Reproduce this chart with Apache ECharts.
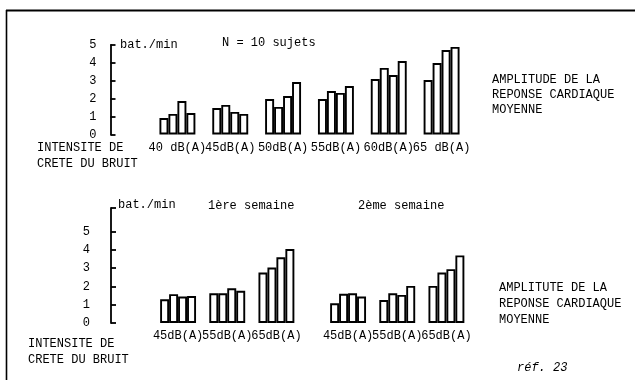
<!DOCTYPE html>
<html>
<head>
<meta charset="utf-8">
<script src="https://cdn.jsdelivr.net/npm/echarts@6/dist/echarts.min.js"></script>
<style>
html,body{margin:0;padding:0;background:#fff;}
#c{width:635px;height:380px;}
</style>
</head>
<body>
<div id="c"></div>
<script>
// ---- data ----
const topCategories = ['40 dB(A)', '45dB(A)', '50dB(A)', '55dB(A)', '60dB(A)', '65 dB(A)'];
const topS1 = [0.92, 1.48, 1.98, 1.98, 3.10, 3.04];
const topS2 = [1.15, 1.65, 1.54, 2.43, 3.72, 3.99];
const topS3 = [1.87, 1.26, 2.15, 2.32, 3.32, 4.72];
const topS4 = [1.20, 1.15, 2.93, 2.71, 4.10, 4.89];

const week1Categories = ['45dB(A)', '55dB(A)', '65dB(A)'];
const w1S1 = [1.30, 1.63, 2.76];
const w1S2 = [1.58, 1.63, 3.04];
const w1S3 = [1.45, 1.90, 3.60];
const w1S4 = [1.48, 1.76, 4.05];

const week2Categories = ['45dB(A)', '55dB(A)', '65dB(A)'];
const w2S1 = [1.08, 1.26, 2.03];
const w2S2 = [1.60, 1.63, 2.76];
const w2S3 = [1.63, 1.54, 2.95];
const w2S4 = [1.45, 2.03, 3.70];

const topYLabels = [0, 1, 2, 3, 4, 5];
const bottomYLabels = [0, 1, 2, 3, 4, 5];
const bottomYTicks = [0, 1, 2, 3, 4, 5, 6.3];
const bottomYMax = 6.3;

// ---- style ----
const FONT = '"Liberation Mono", "DejaVu Sans Mono", monospace';
const FS = 12;
const INK = '#000';

const chart = echarts.init(document.getElementById('c'), null, {renderer: 'canvas'});

function barSeries(data, xi, yi, gap) {
  return {
    type: 'bar', xAxisIndex: xi, yAxisIndex: yi, data: data,
    barGap: '0%', barCategoryGap: gap, silent: true,
    itemStyle: {color: '#fff', borderColor: INK, borderWidth: 1.9}
  };
}
function catAxis(gi, cats, margin) {
  return {
    type: 'category', gridIndex: gi, data: cats,
    axisLine: {show: false}, axisTick: {show: false},
    axisLabel: {interval: 0, margin: margin, color: INK, fontFamily: FONT, fontSize: FS}
  };
}
function valAxis(gi, max, show, offset, labels, ticks, margin) {
  return {
    type: 'value', gridIndex: gi, min: 0, max: max, interval: 1, show: show,
    offset: offset, splitLine: {show: false},
    axisLine: {show: true, lineStyle: {color: INK, width: 1.8}},
    axisTick: {show: true, inside: true, length: 5, customValues: ticks, lineStyle: {color: INK, width: 1.8}},
    axisLabel: {show: true, customValues: labels, margin: margin, color: INK, fontFamily: FONT, fontSize: FS}
  };
}
function txt(x, y, s, extra) {
  return Object.assign({
    type: 'text', x: x, y: y,
    style: {text: s, fill: INK, font: FS + 'px ' + FONT, textVerticalAlign: 'middle'}
  }, extra || {});
}

chart.setOption({
  animation: false,
  backgroundColor: '#fff',
  grid: [
    {left: 151, right: 167, top: 45, bottom: 245.5},
    {left: 153.5, right: 334, top: 208, bottom: 57},
    {left: 323.5, right: 164, top: 208, bottom: 57}
  ],
  xAxis: [
    catAxis(0, topCategories, 7),
    catAxis(1, week1Categories, 7),
    catAxis(2, week2Categories, 7)
  ],
  yAxis: [
    valAxis(0, 5, true, 40.5, topYLabels, topYLabels, 14),
    valAxis(1, bottomYMax, true, 42.5, bottomYLabels, bottomYTicks, 21),
    valAxis(2, bottomYMax, false, 0, bottomYLabels, bottomYTicks, 8)
  ],
  series: [
    barSeries(topS1, 0, 0, '32%'), barSeries(topS2, 0, 0, '32%'),
    barSeries(topS3, 0, 0, '32%'), barSeries(topS4, 0, 0, '32%'),
    barSeries(w1S1, 1, 1, '27%'), barSeries(w1S2, 1, 1, '27%'),
    barSeries(w1S3, 1, 1, '27%'), barSeries(w1S4, 1, 1, '27%'),
    barSeries(w2S1, 2, 2, '27%'), barSeries(w2S2, 2, 2, '27%'),
    barSeries(w2S3, 2, 2, '27%'), barSeries(w2S4, 2, 2, '27%')
  ],
  graphic: [
    {type: 'line', shape: {x1: 6, y1: 10.5, x2: 635, y2: 10.5}, style: {stroke: INK, lineWidth: 2}},
    {type: 'line', shape: {x1: 6.5, y1: 10, x2: 6.5, y2: 380}, style: {stroke: INK, lineWidth: 1.6}},
    txt(120, 45, 'bat./min'),
    txt(222, 43, 'N = 10 sujets'),
    txt(37, 148, 'INTENSITE DE'),
    txt(37, 164, 'CRETE DU BRUIT'),
    txt(492, 80, 'AMPLITUDE DE LA'),
    txt(492, 95, 'REPONSE CARDIAQUE'),
    txt(492, 110, 'MOYENNE'),
    txt(118, 205, 'bat./min'),
    txt(208, 206, '1ère semaine'),
    txt(358, 206, '2ème semaine'),
    txt(28, 344, 'INTENSITE DE'),
    txt(28, 360, 'CRETE DU BRUIT'),
    txt(499, 288, 'AMPLITUTE DE LA'),
    txt(499, 304, 'REPONSE CARDIAQUE'),
    txt(499, 320, 'MOYENNE'),
    {type: 'text', x: 517, y: 368, style: {text: 'réf. 23', fill: INK, font: 'italic ' + FS + 'px ' + FONT, textVerticalAlign: 'middle'}}
  ]
});
</script>
</body>
</html>
